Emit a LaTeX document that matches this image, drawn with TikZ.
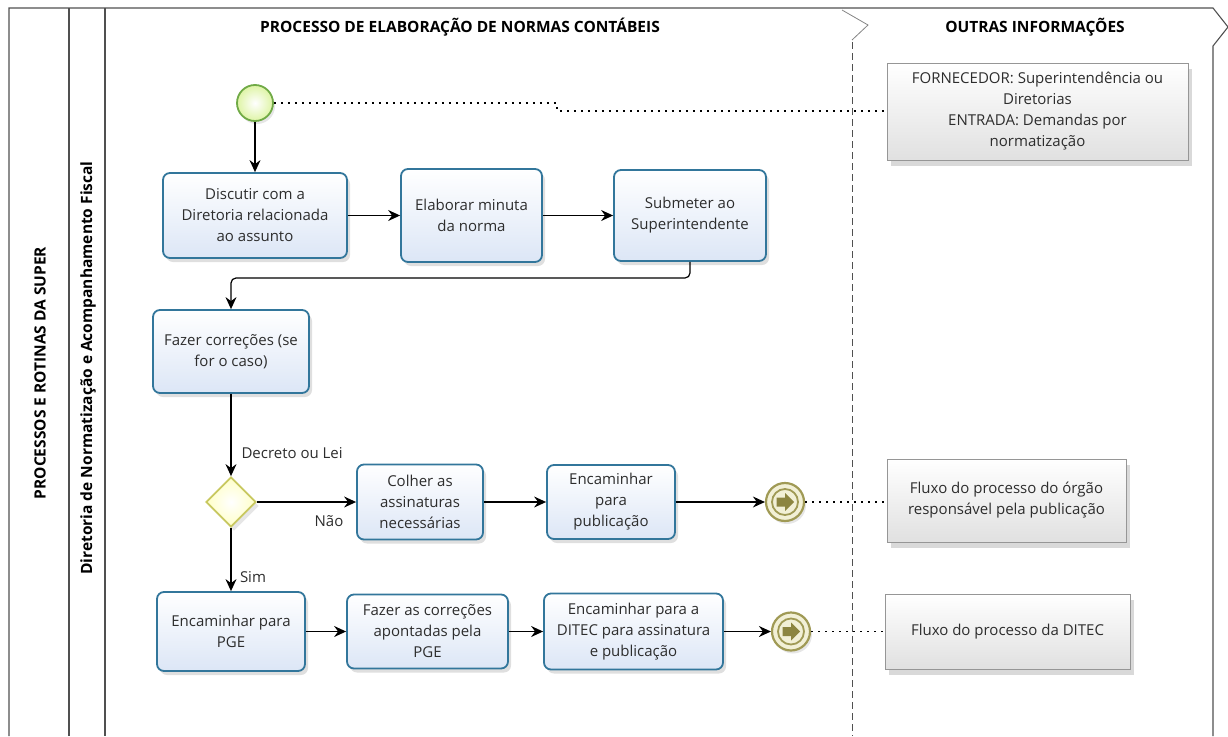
\documentclass[tikz,border=0pt]{standalone}
\usepackage{fontspec}
\setmainfont{Open Sans}
\usetikzlibrary{shadows,arrows.meta,shapes.geometric}
\definecolor{taskborder}{RGB}{50,118,155}
\definecolor{taskfill}{RGB}{220,230,246}
\definecolor{txt}{RGB}{45,45,45}
\definecolor{lanecol}{RGB}{80,80,80}
\definecolor{gwborder}{RGB}{200,200,95}
\definecolor{gwfill}{RGB}{255,255,200}
\definecolor{endcol}{RGB}{160,154,85}
\definecolor{endarrow}{RGB}{140,133,64}
\definecolor{endfill}{RGB}{242,240,214}
\definecolor{startborder}{RGB}{112,170,70}
\definecolor{startfill}{RGB}{222,244,165}
\definecolor{annborder}{RGB}{150,150,150}
\tikzset{
  tasknode/.style={draw=taskborder, line width=1.8pt, rounded corners=7pt,
    top color=white, bottom color=taskfill, text=txt, align=center,
    font=\fontsize{15}{21}\selectfont, inner sep=2pt,
    drop shadow={opacity=0.25, shadow xshift=3pt, shadow yshift=-4pt}},
  annnode/.style={draw=annborder, line width=0.8pt,
    top color=white, bottom color=black!12, text=txt, align=center,
    font=\fontsize{15}{21}\selectfont, inner sep=2pt,
    drop shadow={opacity=0.3, shadow xshift=4pt, shadow yshift=-6pt}},
  endnode/.style={circle, draw=endcol, line width=2.2pt, fill=endfill,
    minimum size=38pt, inner sep=0pt,
    drop shadow={opacity=0.2, shadow xshift=2pt, shadow yshift=-3pt}},
  flow/.style={draw=black, line width=1.2pt, -{Stealth[length=12pt,width=11pt,inset=4pt]}},
  assoc/.style={draw=black, line width=1.8pt, dash pattern=on 1.8pt off 5.2pt},
  lane/.style={draw=lanecol, line width=1.1pt},
  header/.style={font=\bfseries\fontsize{15.5}{18}\selectfont, text=black},
  lbl/.style={font=\fontsize{15}{18}\selectfont, text=txt},
}
\newcommand{\myendglyph}[1]{%
  \draw[endcol, line width=1.8pt, fill=endfill] (#1.center) circle[radius=13pt];
  \fill[endarrow] ([shift={(-8.5,4.5)}]#1.center) -- ([shift={(0,4.5)}]#1.center) -- ([shift={(0,9)}]#1.center)
    -- ([shift={(9,0)}]#1.center) -- ([shift={(0,-9)}]#1.center) -- ([shift={(0,-4.5)}]#1.center)
    -- ([shift={(-8.5,-4.5)}]#1.center) -- cycle;}
\begin{document}
\begin{tikzpicture}[x=1pt,y=1pt]
\useasboundingbox (0,-736) rectangle (1228,0);
% pool / lanes
\draw[lane] (9,-736) -- (9,-8) -- (1213,-8) -- (1228,-27) -- (1213,-46) -- (1213,-736);
\draw[lane] (69,-8) -- (69,-736);
\draw[lane] (105,-8) -- (105,-736);
\draw[draw=lanecol!70, line width=0.8pt] (842,-10) -- (868,-25) -- (852,-40);
\draw[draw=lanecol, line width=0.8pt, dash pattern=on 7pt off 4pt] (852,-42) -- (852,-736);
\node[header] (h1) at (460,-27) {PROCESSO DE ELABORAÇÃO DE NORMAS CONTÁBEIS};
\node[header] (h2) at (1035,-27) {OUTRAS INFORMAÇÕES};
\node[header, rotate=90] (l1) at (40,-373) {PROCESSOS E ROTINAS DA SUPER};
\node[header, rotate=90] (l2) at (88,-368) {Diretoria de Normatização e Acompanhamento Fiscal};
% start
\node[circle, draw=startborder, line width=1.8pt, inner color=white, outer color=startfill,
  minimum size=36pt, inner sep=0pt,
  drop shadow={opacity=0.2, shadow xshift=2pt, shadow yshift=-3pt}] (start) at (255,-103) {};
% tasks
\node[tasknode, minimum width=184pt, minimum height=85pt] (t1) at (255,-215.5) {Discutir com a\\Diretoria relacionada\\ao assunto};
\node[tasknode, minimum width=141pt, minimum height=93pt] (t2) at (471.5,-215.5) {Elaborar minuta\\da norma};
\node[tasknode, minimum width=152pt, minimum height=91pt] (t3) at (690,-215.5) {Submeter ao\\Superintendente};
\node[tasknode, minimum width=156pt, minimum height=83pt] (t4) at (231,-351.5) {Fazer correções (se\\for o caso)};
\node[diamond, aspect=1, draw=gwborder, line width=1.8pt, inner color=white, outer color=gwfill,
  minimum size=50pt, inner sep=0pt,
  drop shadow={opacity=0.2, shadow xshift=3pt, shadow yshift=-4pt}] (gw) at (231,-502) {};
\node[tasknode, minimum width=126pt, minimum height=75pt] (t5) at (420,-502) {Colher as\\assinaturas\\necessárias};
\node[tasknode, minimum width=128pt, minimum height=74pt] (t6) at (611,-502) {Encaminhar\\para\\publicação};
\node[tasknode, minimum width=148pt, minimum height=79pt] (t7) at (231,-631.5) {Encaminhar para\\PGE};
\node[tasknode, minimum width=161pt, minimum height=74pt] (t8) at (427.5,-631.5) {Fazer as correções\\apontadas pela\\PGE};
\node[tasknode, minimum width=179pt, minimum height=76pt] (t9) at (633.5,-631.5) {Encaminhar para a\\DITEC para assinatura\\e publicação};
% end events
\node[endnode] (e1) at (785,-502) {};
\myendglyph{e1}
\node[endnode] (e2) at (791,-631.5) {};
\myendglyph{e2}
% annotations
\node[annnode, minimum width=301pt, minimum height=97pt] (a1) at (1037.5,-111.5) {FORNECEDOR: Superintendência ou\\Diretorias\\ENTRADA: Demandas por\\normatização};
\node[annnode, minimum width=239pt, minimum height=83pt] (a2) at (1006.5,-500.5) {Fluxo do processo do órgão\\responsável pela publicação};
\node[annnode, minimum width=245pt, minimum height=75pt] (a3) at (1007.5,-631.5) {Fluxo do processo da DITEC};
% flows
\draw[flow] (start) -- (t1);
\draw[flow] (t1.east) -- (t2.west);
\draw[flow] (t2.east) -- (t3.west);
\coordinate (c1) at (690,-278);
\coordinate (c2) at (231,-278);
\draw[flow, rounded corners=5pt] (t3.south) -- (c1) -- (c2) -- (t4.north);
\draw[flow] (t4) -- (gw);
\draw[flow] (gw.east) -- (t5.west);
\draw[flow] (t5.east) -- (t6.west);
\draw[flow] (t6.east) -- (e1);
\draw[flow] (gw) -- (t7);
\draw[flow] (t7.east) -- (t8.west);
\draw[flow] (t8.east) -- (t9.west);
\draw[flow] (t9.east) -- (e2);
% labels
\node[lbl, anchor=west] (ldl) at (238,-453) {Decreto ou Lei};
\node[lbl] (lnao) at (329,-521) {Não};
\node[lbl] (lsim) at (253,-577) {Sim};
% associations
\coordinate (d1) at (557,-103);
\coordinate (d2) at (557,-111);
\draw[assoc] (start.east) -- (d1) -- (d2) -- (a1.west |- d2);
\draw[assoc] (e1.east) -- (a2.west |- e1);
\draw[assoc] (e2.east) -- (a3.west |- e2);
\end{tikzpicture}
\end{document}
